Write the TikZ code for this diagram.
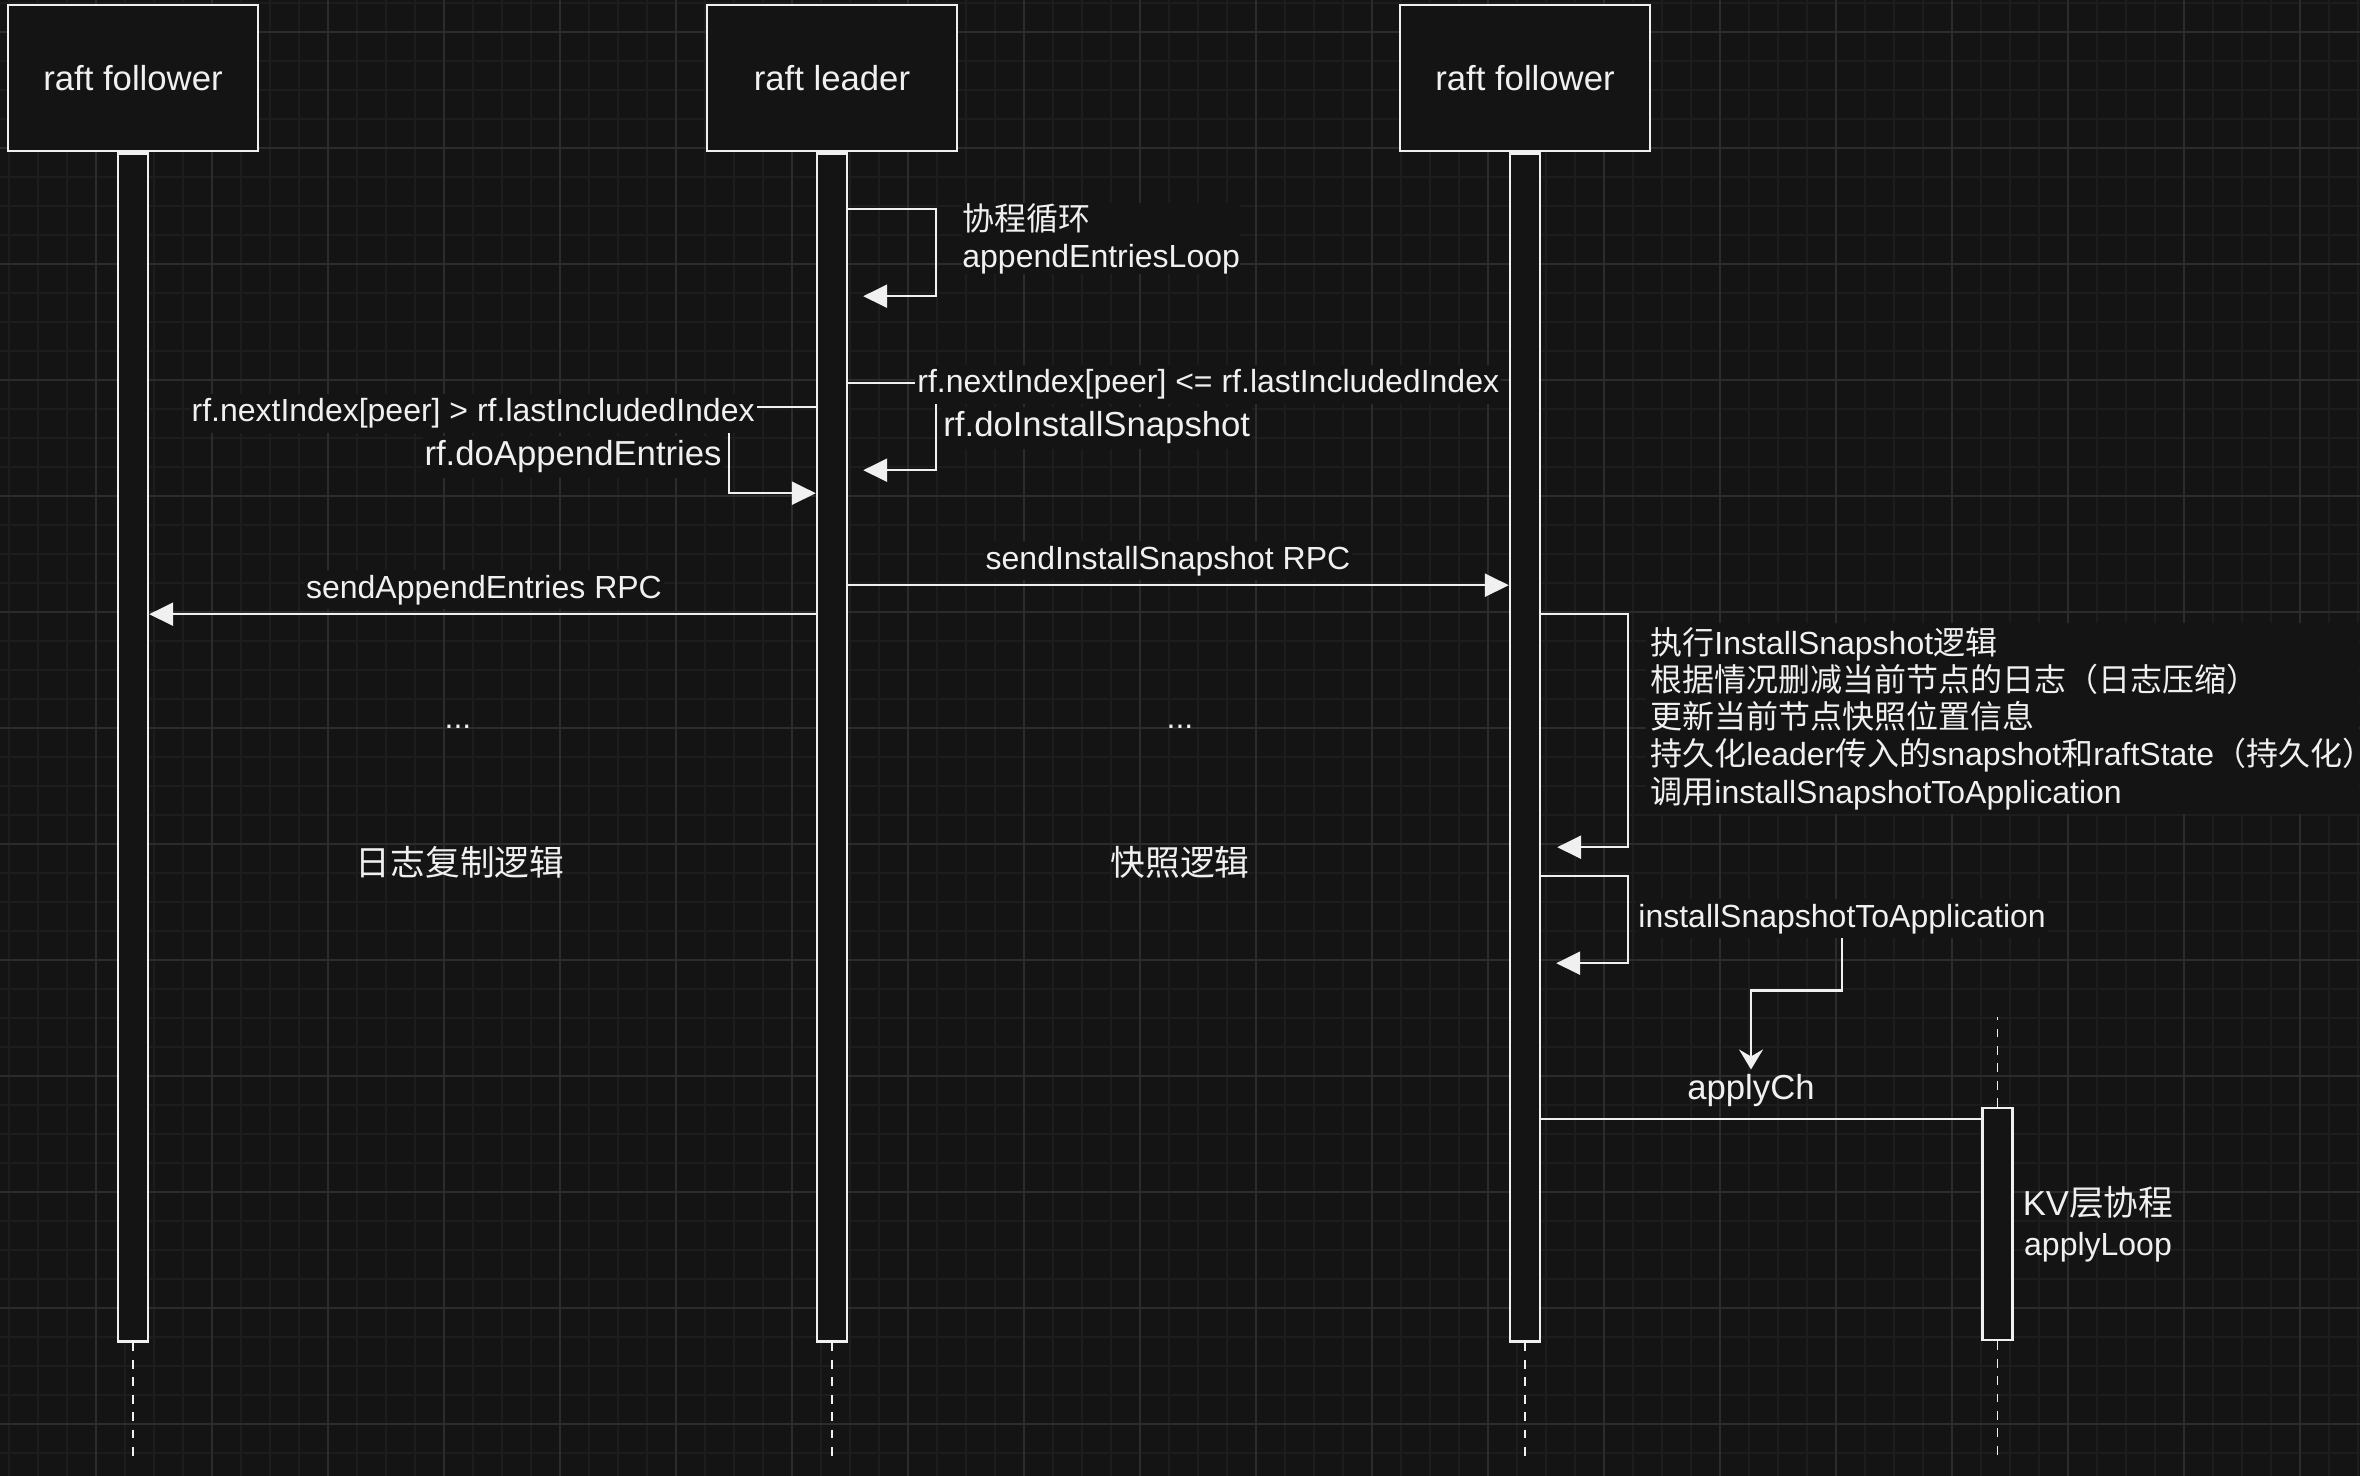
\documentclass[tikz,border=0pt]{standalone}
\usepackage{fontspec}
\setmainfont{Liberation Sans}
\newfontfamily\cjk{Noto Sans CJK SC}
\usetikzlibrary{arrows.meta}
\definecolor{canvas}{HTML}{141414}
\definecolor{gridminor}{HTML}{1D1D1D}
\definecolor{gridmajor}{HTML}{2C2C2C}
\definecolor{ink}{HTML}{F0F0F0}

\begin{document}
\begin{tikzpicture}[x=0.5pt,y=-0.5pt,
  txt/.style={font=\fontsize{16}{18.6}\selectfont, text=ink, inner sep=0pt},
  big/.style={font=\fontsize{17.35}{20}\selectfont, text=ink, inner sep=0pt},
  lbl/.style={txt, fill=canvas, inner xsep=1pt, inner ysep=2pt, text height=12pt, text depth=3.5pt},
  lblbig/.style={big, fill=canvas, inner xsep=1pt, inner ysep=2pt, text height=13pt, text depth=3.8pt},
  head/.style={draw=ink, line width=1.2pt, fill=canvas, minimum width=125pt, minimum height=73pt,
    font=\fontsize{17.35}{20}\selectfont, text=ink, text height=12.5pt, text depth=0pt},
  bar/.style={draw=ink, line width=1.2pt, fill=canvas, minimum width=15pt, anchor=north, inner sep=0pt},
  life/.style={draw=ink, line width=0.9pt, dash pattern=on 4.4pt off 4.3pt},
  wire/.style={draw=ink, line width=1.2pt},
  msg/.style={wire, -{Triangle[length=12pt,width=11.5pt]}},
  hook/.style={wire, -{Stealth[length=10pt,width=12pt,inset=3.5pt]}},
  minorline/.style={draw=gridminor, line width=0.9pt},
  majorline/.style={draw=gridmajor, line width=1pt},
]
\useasboundingbox (0,0) rectangle (2360,1476);
\fill[canvas] (0,0) rectangle (2360,1476);

% background grid
\foreach \x in {9,38,...,2360} \draw[minorline] (\x,0) -- (\x,1476);
\foreach \y in {3,32,...,1476} \draw[minorline] (0,\y) -- (2360,\y);
\foreach \x in {96,212,...,2360} \draw[majorline] (\x,0) -- (\x,1476);
\foreach \y in {32,148,...,1476} \draw[majorline] (0,\y) -- (2360,\y);

% participants
\node[head] (f1) at (133,78) {raft follower};
\node[head] (ld) at (832,78) {raft leader};
\node[head] (f2) at (1525,78) {raft follower};

% activation bars
\node[bar, minimum height=594pt] (b1) at (f1.south) {};
\node[bar, minimum height=594pt] (b2) at (ld.south) {};
\node[bar, minimum height=594pt] (b3) at (f2.south) {};
\node[bar, minimum height=116pt] (b4) at (1997.5,1107) {};

% lifeline tails
\draw[life] (b1.south) -- ++(0,116);
\draw[life] (b2.south) -- ++(0,116);
\draw[life] (b3.south) -- ++(0,116);
\draw[life] (b4.south) -- ++(0,116);
\draw[life] (b4.north) -- ++(0,-90);

% leader: replication loop
\draw[msg] ([yshift=-28.5pt]b2.north east) -- ++(88,0) |- ([xshift=7.5pt,yshift=-72pt]b2.north east);
\node[txt, fill=canvas, align=left, anchor=north west] (loopNote) at (962,203)
  {{\cjk 协程循环}\\appendEntriesLoop};

% leader: snapshot branch
\draw[msg] ([yshift=-115.5pt]b2.north east) -- ++(88,0) |- ([xshift=7.5pt,yshift=-159pt]b2.north east);
\node[lbl, anchor=base west] (condR) at (915,393) {rf.nextIndex[peer] <= rf.lastIncludedIndex};
\node[lblbig, anchor=base west] (callR) at (941,437) {rf.doInstallSnapshot};

% leader: append-entries branch
\draw[msg] ([yshift=-127.5pt]b2.north west) -- ++(-87,0) |- ([yshift=-170.5pt]b2.north west);
\node[lbl, anchor=base east] (condL) at (757,422) {rf.nextIndex[peer] > rf.lastIncludedIndex};
\node[lblbig, anchor=base east] (callL) at (724,466) {rf.doAppendEntries};

% RPCs
\draw[msg] ([yshift=-231pt]b2.north west) -- ([yshift=-231pt]b1.north east);
\node[lbl, anchor=base] (rpcL) at (484,598) {sendAppendEntries RPC};
\draw[msg] ([yshift=-216.5pt]b2.north east) -- ([yshift=-216.5pt]b3.north west);
\node[lbl, anchor=base] (rpcR) at (1168,569) {sendInstallSnapshot RPC};

% follower: InstallSnapshot handler
\draw[msg] ([yshift=-231pt]b3.north east) -- ++(87,0) |- ([xshift=8pt,yshift=-347.5pt]b3.north east);
\node[txt, fill=canvas, align=left, anchor=north west, inner sep=2pt] (installNote) at (1646,623)
  {{\cjk 执行}InstallSnapshot{\cjk 逻辑}\\
   {\cjk 根据情况删减当前节点的日志（日志压缩）}\\
   {\cjk 更新当前节点快照位置信息}\\
   {\cjk 持久化}leader{\cjk 传入的}snapshot{\cjk 和}raftState{\cjk （持久化\makebox[0.4em][l]{）}}\\
   {\cjk 调用}installSnapshotToApplication};

% follower: hand snapshot to the KV layer
\draw[msg] ([yshift=-362pt]b3.north east) -- ++(87,0) |- ([xshift=7.5pt,yshift=-405.5pt]b3.north east);
\node[lbl, anchor=base west] (toApp) at (1636,927) {installSnapshotToApplication};
\node[big, anchor=base] (applyCh) at (1751,1099) {applyCh};
\draw[hook] (toApp.south) -- ++(0,52) -| ([yshift=2pt]applyCh.north);
\coordinate (tap) at ([yshift=-483.5pt]b3.north east);
\draw[wire] (tap) -- (tap -| b4.west);

% KV layer
\node[big, anchor=base] (kv1) at (2098,1215) {KV{\cjk 层协程}};
\node[txt, anchor=base] (kv2) at (2098,1255) {applyLoop};

% section captions
\node[txt, anchor=base] (dotsL) at (458,728) {...};
\node[txt, anchor=base] (dotsR) at (1180,728) {...};
\node[big, anchor=base] (regionL) at (460,875) {\cjk 日志复制逻辑};
\node[big, anchor=base] (regionR) at (1180,875) {\cjk 快照逻辑};
\end{tikzpicture}
\end{document}
